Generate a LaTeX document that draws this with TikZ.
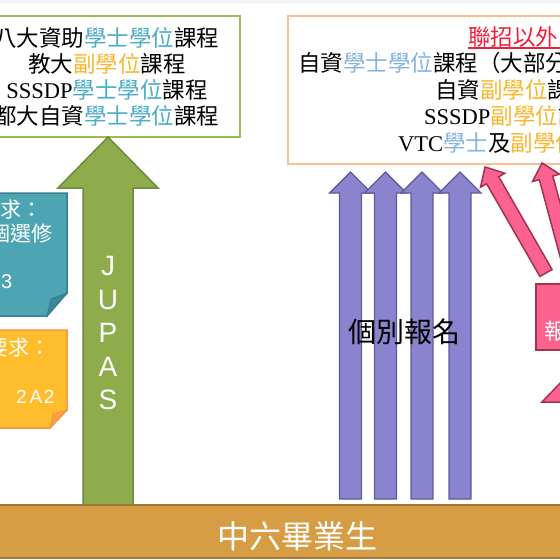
\documentclass[tikz,border=0pt]{standalone}
\usepackage{fontspec}
\setmainfont{Liberation Serif}
\newfontfamily\cjk{Noto Sans CJK TC}
\newfontfamily\lsans{Liberation Sans}
\definecolor{topgray}{HTML}{F2F2F2}
\definecolor{boxgreen}{HTML}{9BBB59}
\definecolor{arrgreen}{HTML}{8FAC4D}
\definecolor{arrgreenD}{HTML}{6E8B3D}
\definecolor{tblue}{HTML}{4BACC6}
\definecolor{lblue}{HTML}{83B5DE}
\definecolor{gold}{HTML}{F9B62D}
\definecolor{redA}{HTML}{F0203C}
\definecolor{boxorange}{HTML}{FAC090}
\definecolor{tealA}{HTML}{4DA5B4}
\definecolor{tealB}{HTML}{35808F}
\definecolor{noteA}{HTML}{FDBD2C}
\definecolor{noteB}{HTML}{F79646}
\definecolor{purp}{HTML}{8A84CE}
\definecolor{purpD}{HTML}{5F5A9C}
\definecolor{barA}{HTML}{D79D44}
\definecolor{barD}{HTML}{A57836}
\definecolor{pinkA}{HTML}{FC6290}
\definecolor{pinkD}{HTML}{A0344E}
\newcommand\lbl[1]{\textcolor{tblue}{#1}}
\newcommand\rbl[1]{\textcolor{lblue}{#1}}
\newcommand\gld[1]{\textcolor{gold}{#1}}
\tikzset{
  txt/.style={inner sep=0pt, font=\cjk\fontsize{22.5}{27}\selectfont},
  wtxt/.style={inner sep=0pt, text=white, font=\cjk\fontsize{21}{25}\selectfont},
  garrow/.style={fill=arrgreen, draw=arrgreenD, line width=1.5pt},
  parrow/.style={fill=purp, draw=purpD, line width=1.3pt},
  pkarrow/.style={fill=pinkA, draw=pinkD, line width=1.5pt},
}
\begin{document}
\begin{tikzpicture}[x=1pt,y=-1pt]
\useasboundingbox (0,0) rectangle (560,560);
\clip (0,0) rectangle (560,560);
\fill[topgray] (0,0) rectangle (560,3);

% left box
\node[draw=boxgreen, line width=2.5pt, fill=white, minimum width=266pt, minimum height=121pt, inner sep=0pt] (leftbox) at (107,76.5) {};
\node[txt] (l1) at (107,37.5) {八大資助\lbl{學士學位}課程};
\node[txt] (l2) at (107,63.5) {教大\gld{副學位}課程};
\node[txt] (l3) at (107,89.5) {{\rmfamily SSSDP}\lbl{學士學位}課程};
\node[txt] (l4) at (107,115.5) {都大自資\lbl{學士學位}課程};

% right box
\node[draw=boxorange, line width=2pt, fill=white, minimum width=332pt, minimum height=148pt, inner sep=0pt] (rightbox) at (454,90) {};
\node[txt, anchor=west, text=redA] (r1) at (468,37) {聯招以外};
\draw[redA, line width=1.2pt] ([yshift=-2.5pt]r1.base west) -- ([yshift=-2.5pt,xshift=20pt]r1.base east);
\node[txt, anchor=west] (r2) at (298,63) {自資\rbl{學士學位}課程（大部分};
\node[txt, anchor=west] (r3) at (435,90) {自資\gld{副學位}課};
\node[txt, anchor=west] (r4) at (424,116) {{\rmfamily SSSDP}\gld{副學位}課};
\node[txt, anchor=west] (r5) at (398,143) {{\rmfamily VTC}\rbl{學士}及\gld{副學位}};

% teal note
\path[fill=tealA, draw=tealB, line width=1.5pt] (-5,193) -- (67,193) -- (67,293) -- (47,316) -- (-5,316) -- cycle;
\path[fill=tealB!75!tealA, draw=tealB, line width=1pt] (67,293) -- (47,316) -- (51,299) -- cycle;
\node[wtxt, anchor=west] (t1) at (-21,210) {要求：};
\node[wtxt, anchor=east] (t2) at (53,234) {個選修};
\node[inner sep=0pt, text=white, font=\lsans\fontsize{20}{24}\selectfont, anchor=west] (t3) at (1,282) {3};

% orange note
\path[fill=noteA, draw=noteB, line width=1.5pt] (-5,330) -- (67,330) -- (67,410) -- (50,428) -- (-5,428) -- cycle;
\path[fill=noteB!70!noteA, draw=noteB, line width=1pt] (67,410) -- (50,428) -- (53,414) -- cycle;
\node[wtxt, anchor=west] (o1) at (-13,348) {要求：};
\node[inner sep=0pt, text=white, font=\lsans\fontsize{19}{24}\selectfont, anchor=west] (o2) at (16,397) {2\kern3pt A\kern1.5pt 2};

% green JUPAS arrow
\path[garrow] (83,505) -- (83,188) -- (58,188) -- (108,137) -- (158,188) -- (133,188) -- (133,505) -- cycle;
\foreach \ch/\yy [count=\i] in {J/266,U/299.5,P/333,A/366.5,S/400}
  \node[inner sep=0pt, text=white, font=\lsans\fontsize{28}{30}\selectfont] (jp\i) at (108,\yy) {\ch};

% purple arrows
\foreach \c in {350.5,385.5,422,460}
  \path[parrow] (\c-11,499) -- (\c-11,193) -- (\c-21,193) -- (\c,172) -- (\c+21,193) -- (\c+11,193) -- (\c+11,499) -- cycle;
\node[txt, font=\cjk\fontsize{28}{30}\selectfont] (ib) at (404,332) {個別報名};

% pink arrows
\begin{scope}[shift={(546,273)}, rotate=119.9]
  \path[pkarrow] (0,-7) -- (107,-7) -- (107,-14) -- (122.3,0) -- (107,14) -- (107,7) -- (0,7) -- cycle;
\end{scope}
\begin{scope}[shift={(575,285)}, rotate=105.1]
  \path[pkarrow] (0,-7) -- (111,-7) -- (111,-14) -- (126.4,0) -- (111,14) -- (111,7) -- (0,7) -- cycle;
\end{scope}
\path[pkarrow] (567,505) -- (567,402) -- (542,402) -- (592,350) -- (642,402) -- (617,402) -- (617,505) -- cycle;
\node[fill=pinkA, draw=pinkD, line width=2pt, minimum width=125pt, minimum height=66pt, inner sep=0pt, anchor=north west] (pinkbox) at (535,283) {};
\node[wtxt, anchor=west, font=\cjk\fontsize{22}{26}\selectfont] (pk) at (544,331) {報};

% bottom bar
\node[fill=barA, draw=barD, line width=2pt, minimum width=580pt, minimum height=53pt, inner sep=0pt] (bar) at (280,531.5) {};
\node[inner sep=0pt, text=white, font=\cjk\fontsize{32}{34}\selectfont] (grad) at (297,536) {中六畢業生};
\end{tikzpicture}
\end{document}
